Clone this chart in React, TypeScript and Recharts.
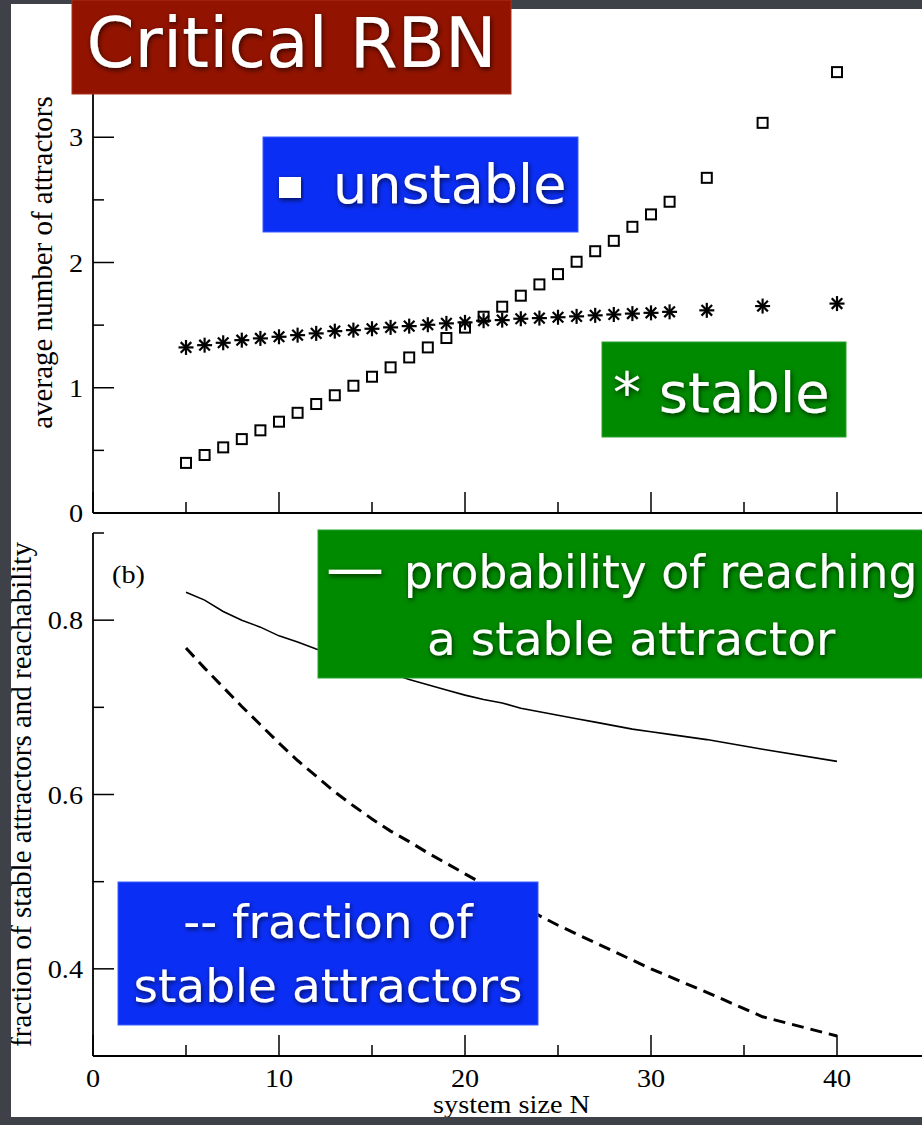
import React from 'react';
import { ScatterChart, Scatter, LineChart, Line, XAxis, YAxis, Label } from 'recharts';

// System sizes N at which the ensemble averages were sampled
const sizeN = [5, 6, 7, 8, 9, 10, 11, 12, 13, 14, 15, 16, 17, 18, 19, 20, 21, 22, 23, 24, 25, 26, 27, 28, 29, 30, 31, 33, 36, 40];

// (a) average number of attractors
const unstableCount = [0.4, 0.463, 0.524, 0.59, 0.66, 0.729, 0.8, 0.87, 0.94, 1.016, 1.088, 1.163, 1.242, 1.322, 1.397, 1.48, 1.567, 1.647, 1.735, 1.825, 1.907, 2.006, 2.09, 2.173, 2.285, 2.384, 2.485, 2.676, 3.115, 3.52];
const stableCount = [1.322, 1.34, 1.359, 1.38, 1.394, 1.407, 1.42, 1.434, 1.452, 1.46, 1.471, 1.482, 1.492, 1.503, 1.514, 1.522, 1.535, 1.54, 1.551, 1.556, 1.563, 1.57, 1.578, 1.585, 1.592, 1.598, 1.606, 1.618, 1.652, 1.672];

// (b) reachability of stable attractors and their fraction
const reachStable = [0.832, 0.823, 0.81, 0.8, 0.792, 0.782, 0.775, 0.767, 0.76, 0.752, 0.746, 0.739, 0.732, 0.726, 0.72, 0.714, 0.709, 0.705, 0.699, 0.695, 0.691, 0.687, 0.683, 0.679, 0.675, 0.672, 0.669, 0.663, 0.652, 0.638];
const stableFraction = [0.768, 0.745, 0.723, 0.701, 0.68, 0.659, 0.639, 0.621, 0.603, 0.587, 0.572, 0.558, 0.546, 0.533, 0.521, 0.509, 0.497, 0.485, 0.473, 0.461, 0.45, 0.44, 0.43, 0.42, 0.41, 0.4, 0.391, 0.373, 0.345, 0.323];

// Axis ticks
const xTicks = [0, 5, 10, 15, 20, 25, 30, 35, 40, 45];
const xMajor = [0, 10, 20, 30, 40];
const xLabels = [0, 10, 20, 30, 40];
const topYTicks = [0, 0.5, 1, 1.5, 2, 2.5, 3, 3.5, 4];
const topYMajor = [0, 1, 2, 3, 4];
const topYLabels = [0, 1, 2, 3];
const botYTicks = [0.3, 0.4, 0.5, 0.6, 0.7, 0.8, 0.9];
const botYMajor = [0.4, 0.6, 0.8];
const botYLabels = [0.4, 0.6, 0.8];

const unstablePts = sizeN.map((n, i) => ({ n, v: unstableCount[i] }));
const stablePts = sizeN.map((n, i) => ({ n, v: stableCount[i] }));
const curveRows = sizeN.map((n, i) => ({ n, reach: reachStable[i], frac: stableFraction[i] }));

const SERIF = '"Liberation Serif", "Times New Roman", serif';
const SANS = '"DejaVu Sans", "Noto Sans", sans-serif';
const MAJOR_LEN = 21;
const MINOR_LEN = 11;
const axisStyle = { stroke: '#000', strokeWidth: 1.8 };

const has = (arr: number[], v: number) => arr.some((a) => Math.abs(a - v) < 1e-6);

// Tick on a horizontal axis: the mark points into the plot (dir = -1 up, +1 down)
function HTick(props: any) {
  const { x, y, payload, dir, majors, labels } = props;
  const v = payload.value;
  const len = has(majors, v) ? MAJOR_LEN : MINOR_LEN;
  return (
    <g>
      <line x1={x} x2={x} y1={y} y2={y + dir * len} stroke="#000" strokeWidth={1.5} />
      {labels && has(labels, v) ? (
        <text
          transform={`translate(${x},${y + 31}) scale(1.13,1)`}
          textAnchor="middle"
          fontFamily={SERIF}
          fontSize={25}
          fill="#000"
        >
          {v}
        </text>
      ) : null}
    </g>
  );
}

// Tick on a vertical axis: the mark points into the plot (dir = +1 right, -1 left)
function VTick(props: any) {
  const { x, y, payload, dir, majors, labels, digits } = props;
  const v = payload.value;
  const len = has(majors, v) ? MAJOR_LEN : MINOR_LEN;
  return (
    <g>
      <line x1={x} x2={x + dir * len} y1={y} y2={y} stroke="#000" strokeWidth={1.5} />
      {labels && has(labels, v) ? (
        <text
          transform={`translate(${x - 10},${y + 9}) scale(1.13,1)`}
          textAnchor="end"
          fontFamily={SERIF}
          fontSize={25}
          fill="#000"
        >
          {v.toFixed(digits)}
        </text>
      ) : null}
    </g>
  );
}

const SquareMark = (p: any) => (
  <rect x={p.cx - 5} y={p.cy - 5} width={10} height={10} fill="none" stroke="#000" strokeWidth={2} />
);

const StarMark = (p: any) => {
  const { cx, cy } = p;
  const a = 7.5;
  const d = 5.3;
  return (
    <g stroke="#000" strokeWidth={2.2}>
      <line x1={cx - a} y1={cy} x2={cx + a} y2={cy} />
      <line x1={cx} y1={cy - a} x2={cx} y2={cy + a} />
      <line x1={cx - d} y1={cy - d} x2={cx + d} y2={cy + d} />
      <line x1={cx - d} y1={cy + d} x2={cx + d} y2={cy - d} />
    </g>
  );
};

const YTitle = (text: string, bx: number) => (props: any) => {
  const vb = props.viewBox || { x: 0, y: 0, width: 0, height: 0 };
  const cy = vb.y + vb.height / 2;
  return (
    <text
      x={bx}
      y={cy}
      transform={`rotate(-90, ${bx}, ${cy})`}
      textAnchor="middle"
      fontFamily={SERIF}
      fontSize={29}
      fill="#000"
    >
      {text}
    </text>
  );
};

const XTitle = (props: any) => {
  const vb = props.viewBox || { x: 0, y: 0, width: 0, height: 0 };
  const cx = vb.x + vb.width / 2;
  return (
    <text
      transform={`translate(${cx},${vb.y + 57}) scale(1.13,1)`}
      textAnchor="middle"
      fontFamily={SERIF}
      fontSize={25}
      fill="#000"
    >
      system size N
    </text>
  );
};

function TopPanel() {
  return (
    <ScatterChart width={1000} height={540} margin={{ top: 12, right: 70, bottom: 0, left: 0 }}>
      <XAxis
        xAxisId="b"
        type="number"
        dataKey="n"
        domain={[0, 45]}
        allowDataOverflow
        ticks={xTicks}
        interval={0}
        height={27}
        tickSize={0}
        tickMargin={0}
        tickLine={false}
        axisLine={axisStyle}
        tick={(p: any) => <HTick {...p} dir={-1} majors={xMajor} />}
      />
      <XAxis
        xAxisId="t"
        orientation="top"
        type="number"
        domain={[0, 45]}
        allowDataOverflow
        ticks={xTicks}
        interval={0}
        height={0}
        tickSize={0}
        tickMargin={0}
        tickLine={false}
        axisLine={axisStyle}
        tick={(p: any) => <HTick {...p} dir={1} majors={xMajor} />}
      />
      <YAxis
        yAxisId="l"
        type="number"
        dataKey="v"
        domain={[0, 4]}
        allowDataOverflow
        ticks={topYTicks}
        interval={0}
        width={93}
        tickSize={0}
        tickMargin={0}
        tickLine={false}
        axisLine={axisStyle}
        tick={(p: any) => <VTick {...p} dir={1} majors={topYMajor} labels={topYLabels} digits={0} />}
      >
        <Label content={YTitle('average number of attractors', 52)} />
      </YAxis>
      <YAxis
        yAxisId="r"
        orientation="right"
        type="number"
        domain={[0, 4]}
        allowDataOverflow
        ticks={topYTicks}
        interval={0}
        width={0}
        tickSize={0}
        tickMargin={0}
        tickLine={false}
        axisLine={axisStyle}
        tick={(p: any) => <VTick {...p} dir={-1} majors={topYMajor} digits={0} />}
      />
      <Scatter xAxisId="b" yAxisId="l" data={unstablePts} shape={SquareMark} isAnimationActive={false} />
      <Scatter xAxisId="b" yAxisId="l" data={stablePts} shape={StarMark} isAnimationActive={false} />
    </ScatterChart>
  );
}

function BottomPanel() {
  return (
    <LineChart width={1000} height={605} data={curveRows} margin={{ top: 13, right: 70, bottom: 0, left: 0 }}>
      <XAxis
        xAxisId="b"
        type="number"
        dataKey="n"
        domain={[0, 45]}
        allowDataOverflow
        ticks={xTicks}
        interval={0}
        height={69}
        tickSize={0}
        tickMargin={0}
        tickLine={false}
        axisLine={axisStyle}
        tick={(p: any) => <HTick {...p} dir={-1} majors={xMajor} labels={xLabels} />}
      >
        <Label content={XTitle} />
      </XAxis>
      <XAxis
        xAxisId="t"
        orientation="top"
        type="number"
        domain={[0, 45]}
        allowDataOverflow
        ticks={xTicks}
        interval={0}
        height={0}
        tickSize={0}
        tickMargin={0}
        tickLine={false}
        axisLine={axisStyle}
        tick={(p: any) => <HTick {...p} dir={1} majors={xMajor} />}
      />
      <YAxis
        yAxisId="l"
        type="number"
        domain={[0.3, 0.9]}
        allowDataOverflow
        ticks={botYTicks}
        interval={0}
        width={93}
        tickSize={0}
        tickMargin={0}
        tickLine={false}
        axisLine={axisStyle}
        tick={(p: any) => <VTick {...p} dir={1} majors={botYMajor} labels={botYLabels} digits={1} />}
      >
        <Label content={YTitle('fraction of stable attractors and reachability', 31)} />
      </YAxis>
      <YAxis
        yAxisId="r"
        orientation="right"
        type="number"
        domain={[0.3, 0.9]}
        allowDataOverflow
        ticks={botYTicks}
        interval={0}
        width={0}
        tickSize={0}
        tickMargin={0}
        tickLine={false}
        axisLine={axisStyle}
        tick={(p: any) => <VTick {...p} dir={-1} majors={botYMajor} digits={1} />}
      />
      <Line
        xAxisId="b"
        yAxisId="l"
        type="linear"
        dataKey="reach"
        stroke="#000"
        strokeWidth={1.6}
        dot={false}
        isAnimationActive={false}
      />
      <Line
        xAxisId="b"
        yAxisId="l"
        type="linear"
        dataKey="frac"
        stroke="#000"
        strokeWidth={3}
        strokeDasharray="12 7"
        dot={false}
        isAnimationActive={false}
      />
    </LineChart>
  );
}

const SLATE = '#3e4147';
const RED = '#921300';
const BLUE = '#0b2ef5';
const GREEN = '#008a00';

function Annotations() {
  const txt = { fontFamily: SANS, fill: '#fff', filter: 'url(#glow)' } as any;
  return (
    <svg width={922} height={1125} style={{ position: 'absolute', left: 0, top: 0 }}>
      <defs>
        <filter id="glow" x="-10%" y="-40%" width="120%" height="180%">
          <feDropShadow dx="1" dy="2" stdDeviation="2.5" floodColor="#000" floodOpacity="0.7" />
        </filter>
      </defs>
      {/* slide frame around the figure */}
      <rect x={0} y={0} width={11} height={1125} fill={SLATE} />
      <rect x={0} y={0} width={922} height={4} fill={SLATE} />
      <rect x={511} y={0} width={411} height={9} fill={SLATE} />
      <rect x={0} y={1117} width={922} height={8} fill={SLATE} />

      <text transform="translate(112,583) scale(1.13,1)" fontFamily={SERIF} fontSize={25} fill="#000">
        (b)
      </text>

      <rect x={72} y={0} width={439} height={94} fill={RED} stroke="#a8321c" strokeWidth={1} />
      <text x={291.5} y={67} textAnchor="middle" fontSize={69} {...txt}>
        Critical RBN
      </text>

      <rect x={263} y={137} width={315} height={95} fill={BLUE} stroke="#3b5cff" strokeWidth={1} />
      <rect x={279} y={177} width={22} height={21} fill="#fff" filter="url(#glow)" />
      <text x={333} y={203} fontSize={54} {...txt}>
        unstable
      </text>

      <rect x={602} y={342} width={244} height={95} fill={GREEN} stroke="#2aa02a" strokeWidth={1} />
      <text x={613} y={412} fontSize={56} {...txt}>
        * stable
      </text>

      <rect x={318} y={530} width={640} height={148} fill={GREEN} stroke="#2aa02a" strokeWidth={1} />
      <text x={326} y={588} fontSize={45.5} {...txt}>
        <tspan fontSize={58}>—</tspan>
        <tspan x={404}>probability of reaching</tspan>
      </text>
      <text x={427} y={655} fontSize={47} {...txt}>
        a stable attractor
      </text>

      <rect x={118} y={882} width={420} height={143} fill={BLUE} stroke="#3b5cff" strokeWidth={1} />
      <text x={328} y={938} textAnchor="middle" fontSize={47} {...txt}>
        -- fraction of
      </text>
      <text x={328} y={1002} textAnchor="middle" fontSize={47} {...txt}>
        stable attractors
      </text>
    </svg>
  );
}

export default function App() {
  return (
    <div
      style={{
        position: 'absolute',
        left: 0,
        top: 0,
        width: 922,
        height: 1125,
        overflow: 'hidden',
        background: '#fff',
      }}
    >
      <div style={{ position: 'absolute', left: 0, top: 0 }}>
        <TopPanel />
      </div>
      <div style={{ position: 'absolute', left: 0, top: 520 }}>
        <BottomPanel />
      </div>
      <Annotations />
    </div>
  );
}
